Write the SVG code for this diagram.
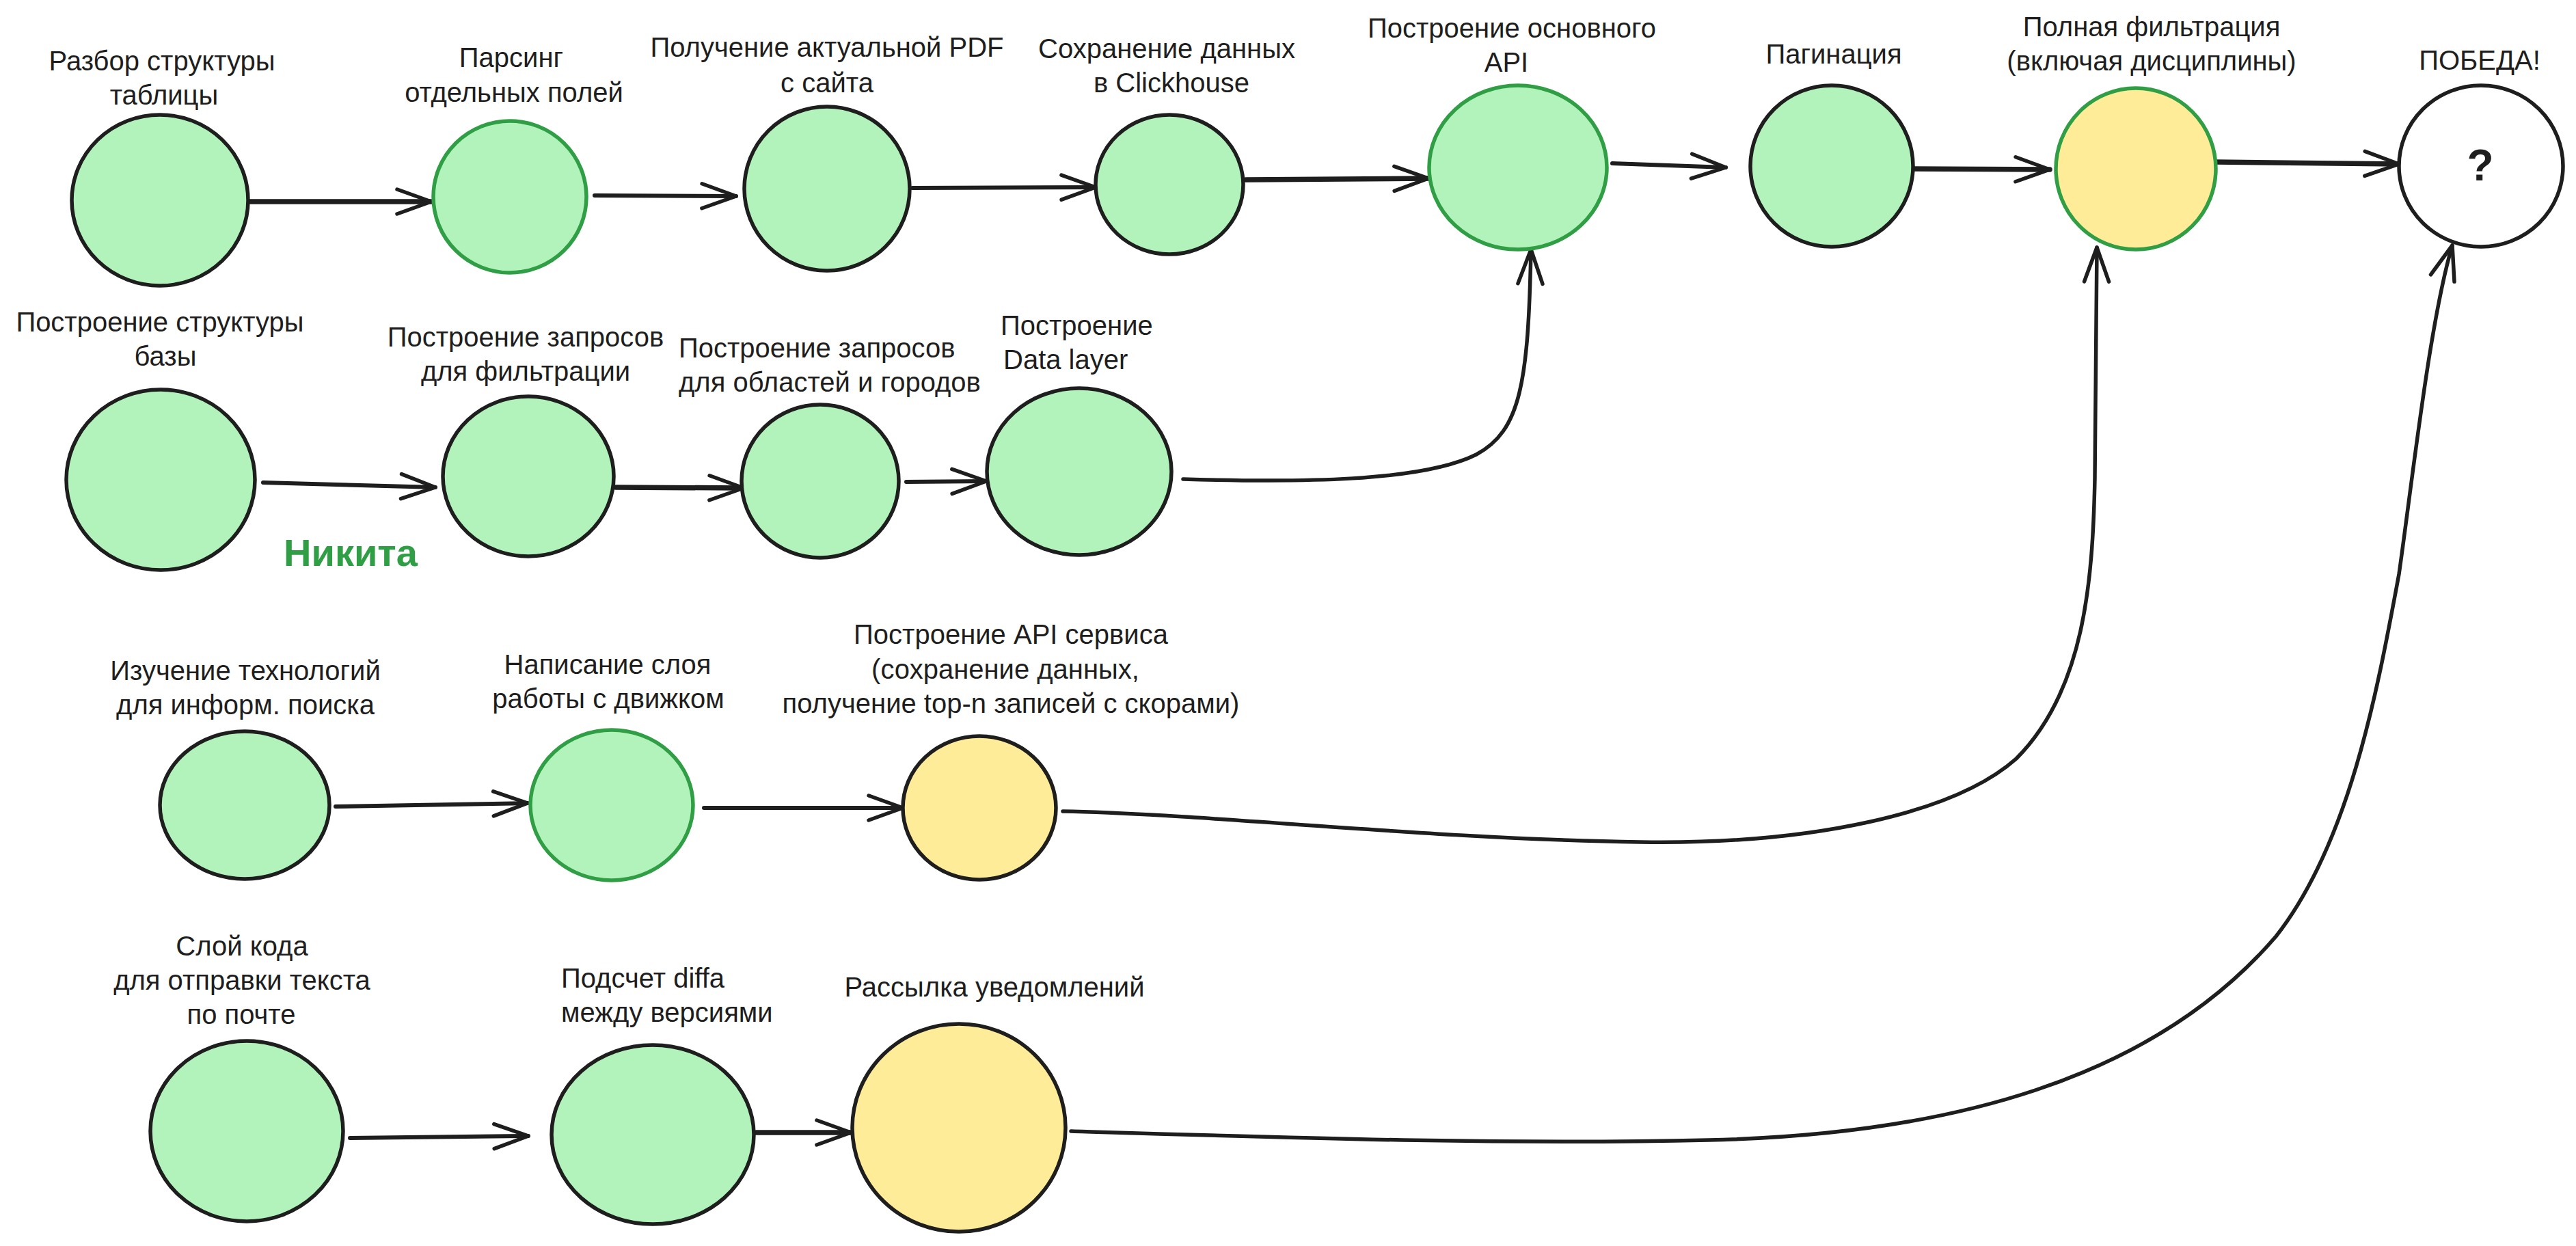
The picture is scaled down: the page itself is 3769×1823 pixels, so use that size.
<svg xmlns="http://www.w3.org/2000/svg" width="3769" height="1823" viewBox="0 0 3769 1823">
<defs>
<style>
.bg{fill:#ffffff}
.n{stroke-width:5.5}
.g{fill:#b2f2bb}
.y{fill:#ffec99}
.w{fill:#ffffff}
.sk{stroke:#1e1e1e}
.sg{stroke:#2f9e44}
.t{font-family:"Liberation Sans","DejaVu Sans",sans-serif;font-size:40px;fill:#1e1e1e;text-anchor:middle}
.ts{text-anchor:start}
.c{fill:none;stroke:#1e1e1e;stroke-width:6;stroke-linecap:round;stroke-linejoin:round}
.th{stroke-width:7.5}
.cc{stroke-width:5.5}
</style>
<marker id="ah" markerUnits="userSpaceOnUse" viewBox="-55 -25 60 50" refX="0" refY="0" markerWidth="60" markerHeight="50" orient="auto">
<path d="M-50,-18 L0,0 L-50,18" fill="none" stroke="#1e1e1e" stroke-width="5.5" stroke-linecap="round" stroke-linejoin="round"/>
</marker>
</defs>
<rect class="bg" x="0" y="0" width="3769" height="1823"/>

<g id="connectors">
<path class="c th" marker-end="url(#ah)" d="M363,295 L631,295"/>
<path class="c" marker-end="url(#ah)" d="M870,286 L1077,287"/>
<path class="c" marker-end="url(#ah)" d="M1335,275 L1603,274"/>
<path class="c th" marker-end="url(#ah)" d="M1823,263 L2090,261"/>
<path class="c" marker-end="url(#ah)" d="M2359,239 L2525,245"/>
<path class="c th" marker-end="url(#ah)" d="M2799,247 L2999,248"/>
<path class="c th" marker-end="url(#ah)" d="M3241,237 L3510,240"/>
<path class="c" marker-end="url(#ah)" d="M385,706 L637,713"/>
<path class="c th" marker-end="url(#ah)" d="M901,713 L1088,714"/>
<path class="c" marker-end="url(#ah)" d="M1326,705 L1443,704"/>
<path class="c cc" marker-end="url(#ah)" d="M1731,701 C1900,706 2080,705 2160,665 C2225,630 2236,560 2240,365"/>
<path class="c" marker-end="url(#ah)" d="M491,1180 L772,1175"/>
<path class="c" marker-end="url(#ah)" d="M1030,1182 L1321,1182"/>
<path class="c cc" marker-end="url(#ah)" d="M1555,1187 C1750,1190 2100,1228 2400,1232 C2650,1236 2860,1190 2950,1110 C3050,1010 3062,850 3065,700 L3068,362"/>
<path class="c" marker-end="url(#ah)" d="M512,1665 L773,1662"/>
<path class="c th" marker-end="url(#ah)" d="M1106,1657 L1245,1657"/>
<path class="c cc" marker-end="url(#ah)" d="M1567,1655 C1900,1665 2200,1675 2500,1668 C2850,1660 3150,1580 3330,1370 C3440,1230 3480,1000 3510,840 C3530,700 3555,470 3588,359"/>
</g>

<g id="n1"><ellipse class="n g sk" cx="234" cy="293" rx="129" ry="125"/>
<text class="t" x="237" y="103">Разбор структуры</text><text class="t" x="240" y="153">таблицы</text></g>
<g id="n2"><ellipse class="n g sg" cx="746" cy="288" rx="112" ry="111"/>
<text class="t" x="748" y="98">Парсинг</text><text class="t" x="752" y="149">отдельных полей</text></g>
<g id="n3"><ellipse class="n g sk" cx="1210" cy="276" rx="121" ry="120"/>
<text class="t" x="1210" y="83">Получение актуальной PDF</text><text class="t" x="1210" y="135">с сайта</text></g>
<g id="n4"><ellipse class="n g sk" cx="1711" cy="270" rx="108" ry="102"/>
<text class="t" x="1707" y="85">Сохранение данных</text><text class="t" x="1714" y="135">в Clickhouse</text></g>
<g id="n5"><ellipse class="n g sg" cx="2221" cy="245" rx="130" ry="120"/>
<text class="t" x="2212" y="55">Построение основного</text><text class="t" x="2204" y="105">API</text></g>
<g id="n6"><ellipse class="n g sk" cx="2680" cy="243" rx="119" ry="118"/>
<text class="t" x="2683" y="93">Пагинация</text></g>
<g id="n7"><ellipse class="n y sg" cx="3125" cy="247" rx="117" ry="118"/>
<text class="t" x="3148" y="53">Полная фильтрация</text><text class="t" x="3148" y="103">(включая дисциплины)</text></g>
<g id="n8"><ellipse class="n w sk" cx="3630" cy="243" rx="120" ry="118"/>
<text class="t" x="3628" y="102">ПОБЕДА!</text>
<text class="t" x="3629" y="264" style="font-size:64px;font-weight:bold">?</text></g>

<g id="n9"><ellipse class="n g sk" cx="235" cy="702" rx="138" ry="132"/>
<text class="t" x="234" y="485">Построение структуры</text><text class="t" x="242" y="535">базы</text></g>
<g id="n10"><ellipse class="n g sk" cx="773" cy="697" rx="125" ry="117"/>
<text class="t" x="769" y="507">Построение запросов</text><text class="t" x="769" y="557">для фильтрации</text></g>
<g id="n11"><ellipse class="n g sk" cx="1200" cy="704" rx="115" ry="112"/>
<text class="t ts" x="993" y="523">Построение запросов</text><text class="t ts" x="993" y="573">для областей и городов</text></g>
<g id="n12"><ellipse class="n g sk" cx="1579" cy="690" rx="135" ry="122"/>
<text class="t ts" x="1464" y="490">Построение</text><text class="t ts" x="1468" y="540">Data layer</text></g>
<g id="label-nikita"><text class="t" x="513" y="828" style="font-size:56px;font-weight:bold;fill:#2f9e44">Никита</text></g>

<g id="n13"><ellipse class="n g sk" cx="358" cy="1178" rx="124" ry="108"/>
<text class="t" x="359" y="995">Изучение технологий</text><text class="t" x="359" y="1045">для информ. поиска</text></g>
<g id="n14"><ellipse class="n g sg" cx="895" cy="1178" rx="119" ry="110"/>
<text class="t" x="889" y="986">Написание слоя</text><text class="t" x="890" y="1036">работы с движком</text></g>
<g id="n15"><ellipse class="n y sk" cx="1433" cy="1182" rx="112" ry="105"/>
<text class="t" x="1479" y="942">Построение API сервиса</text><text class="t" x="1471" y="993">(сохранение данных,</text><text class="t" x="1479" y="1043">получение top-n записей с скорами)</text></g>

<g id="n16"><ellipse class="n g sk" cx="361" cy="1655" rx="141" ry="132"/>
<text class="t" x="354" y="1398">Слой кода</text><text class="t" x="354" y="1448">для отправки текста</text><text class="t" x="353" y="1498">по почте</text></g>
<g id="n17"><ellipse class="n g sk" cx="955" cy="1660" rx="148" ry="131"/>
<text class="t ts" x="821" y="1445">Подсчет diffa</text><text class="t ts" x="821" y="1495">между версиями</text></g>
<g id="n18"><ellipse class="n y sk" cx="1403" cy="1650" rx="156" ry="152"/>
<text class="t" x="1455" y="1458">Рассылка уведомлений</text></g>
</svg>
